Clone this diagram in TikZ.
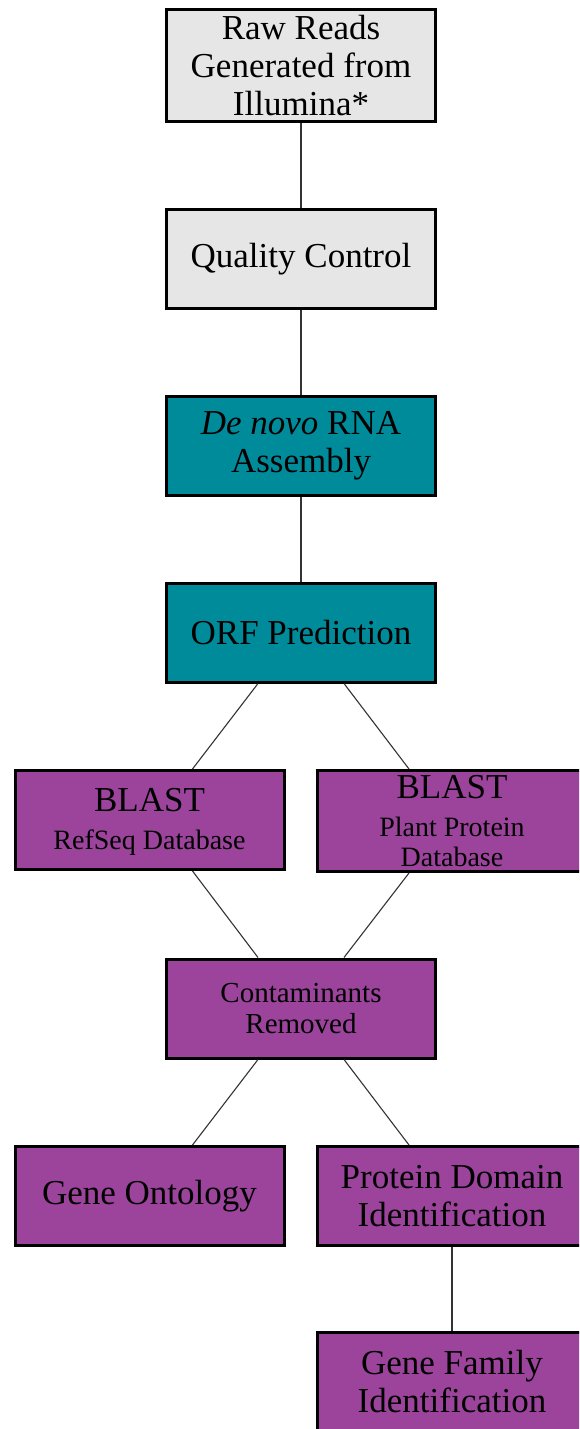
\documentclass[tikz,border=0pt]{standalone}
\usepackage{fontspec}
\setmainfont{Liberation Serif}
\definecolor{boxgray}{HTML}{E6E6E6}
\definecolor{boxteal}{HTML}{008B9B}
\definecolor{boxpurple}{HTML}{9C449C}
\definecolor{linkgray}{HTML}{333333}
\newcommand{\smalltxt}{\fontsize{28}{31}\selectfont}
\begin{document}
\begin{tikzpicture}[x=1pt,y=-1pt,
  stepbox/.style={draw=black, line width=3pt, minimum width=269pt, minimum height=99pt,
     inner sep=0pt, align=center,
     font=\fontsize{35}{38}\selectfont},
  graybox/.style={stepbox, fill=boxgray},
  tealbox/.style={stepbox, fill=boxteal},
  purplebox/.style={stepbox, fill=boxpurple},
  smallbox/.style={font=\fontsize{29}{31}\selectfont},
  link/.style={draw=linkgray, line width=1.1pt}]
\useasboundingbox (0,0) rectangle (579,1429);
\clip (0,0) rectangle (579,1429);
\fill[white] (0,0) rectangle (579,1429);
% nodes
\node[graybox, minimum height=112pt] (raw) at (301,65.5) {Raw Reads\\Generated from\\Illumina*};
\node[graybox] (qc) at (301,259) {Quality Control};
\node[tealbox] (dn) at (301,445.5) {\textit{De novo} RNA\\Assembly};
\node[tealbox] (orf) at (301,632.5) {ORF Prediction};
\node[purplebox] (b1) at (149.5,820) {\\[-12pt]BLAST\\\smalltxt RefSeq Database};
\node[purplebox, minimum height=101pt] (b2) at (452,821) {BLAST\\\smalltxt Plant Protein\\[-8pt]\smalltxt Database};
\node[purplebox, smallbox] (cont) at (301,1008.5) {Contaminants\\Removed};
\node[purplebox] (go) at (149.5,1196) {Gene Ontology};
\node[purplebox] (pd) at (452,1196) {Protein Domain\\Identification};
\node[purplebox] (gf) at (452,1381.5) {Gene Family\\Identification};
% connectors
\draw[link] (raw.south) -- (qc.north);
\draw[link] (qc.south) -- (dn.north);
\draw[link] (dn.south) -- (orf.north);
\draw[link] ([xshift=-43pt]orf.south) -- ([xshift=43pt]b1.north);
\draw[link] ([xshift=43pt]orf.south) -- ([xshift=-43pt]b2.north);
\draw[link] ([xshift=43pt]b1.south) -- ([xshift=-43pt]cont.north);
\draw[link] ([xshift=-43pt]b2.south) -- ([xshift=43pt]cont.north);
\draw[link] ([xshift=-43pt]cont.south) -- ([xshift=43pt]go.north);
\draw[link] ([xshift=43pt]cont.south) -- ([xshift=-43pt]pd.north);
\draw[link] (pd.south) -- (gf.north);
\end{tikzpicture}
\end{document}
